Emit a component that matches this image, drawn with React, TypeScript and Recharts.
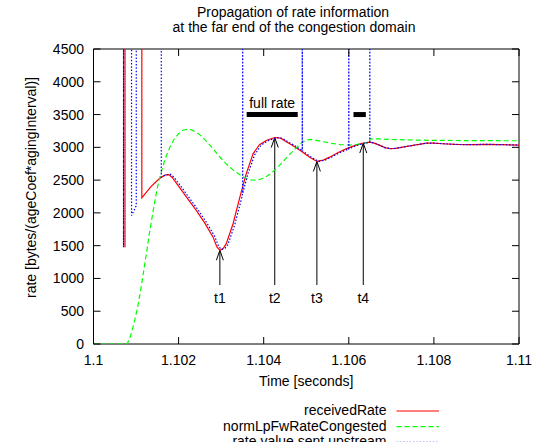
import { LineChart, Line, XAxis, YAxis, ReferenceLine, ReferenceArea, Legend } from "recharts"

const FONT = '"Liberation Sans", Arial, Helvetica, sans-serif'
const W = 547
const H = 442
// plot frame in pixels (used for the inward tick marks)
const PLOT = { left: 93.5, right: 519, top: 49, bottom: 344 }

const xTicks = [1.1, 1.102, 1.104, 1.106, 1.108, 1.11]
const yTicks = [0, 500, 1000, 1500, 2000, 2500, 3000, 3500, 4000, 4500]

// [time (s), rate]; values above 4500 are rate spikes that run off the top
const receivedRate: [number, number][] = [
  [1.10074, 9000], [1.10074, 1475], [1.100741, 9000],
  [1.101136, 9000], [1.101136, 2230], [1.10135, 2400], [1.10155, 2525],
  [1.10168, 2575], [1.10177, 2585], [1.10185, 2540], [1.10202, 2390],
  [1.10222, 2210], [1.10242, 2035], [1.10262, 1840], [1.10281, 1630],
  [1.1029, 1480], [1.10297, 1430], [1.10305, 1460], [1.10312, 1530],
  [1.10328, 1835], [1.10344, 2240], [1.10359, 2600], [1.10375, 2900],
  [1.1039, 3040], [1.10406, 3105], [1.10426, 3150], [1.1044, 3140],
  [1.10453, 3085], [1.1047, 3020], [1.10485, 2955], [1.10508, 2850],
  [1.10525, 2785], [1.1054, 2805], [1.10555, 2850], [1.10575, 2920],
  [1.10595, 2980], [1.10615, 3030], [1.10634, 3065], [1.10649, 3080],
  [1.1066, 3065], [1.10673, 3030], [1.10685, 2995], [1.10697, 2980],
  [1.1071, 2985], [1.1072, 2995], [1.10751, 3030], [1.10783, 3065],
  [1.108, 3065], [1.10821, 3055], [1.1085, 3045], [1.10885, 3040],
  [1.10924, 3046], [1.10962, 3040], [1.11, 3035],
]

const normLpFwRateCongested: [number, number][] = [
  [1.1, 0], [1.10076, 0], [1.1008, 15], [1.10085, 80], [1.1009, 190],
  [1.10095, 310], [1.101, 450], [1.10105, 610], [1.1011, 790], [1.10115, 990],
  [1.1012, 1200], [1.10125, 1410], [1.1013, 1630], [1.10135, 1830], [1.1014, 2020],
  [1.10145, 2210], [1.1015, 2380], [1.10155, 2520], [1.1016, 2640], [1.10165, 2750],
  [1.1017, 2850], [1.1018, 3010], [1.1019, 3130], [1.102, 3210], [1.1021, 3260],
  [1.1022, 3275], [1.1023, 3268], [1.1024, 3235], [1.1025, 3190], [1.1026, 3130],
  [1.1027, 3060], [1.1028, 2985], [1.1029, 2905], [1.103, 2830], [1.1031, 2760],
  [1.1032, 2700], [1.1033, 2645], [1.1034, 2600], [1.1035, 2555], [1.1036, 2525],
  [1.1037, 2505], [1.1038, 2500], [1.1039, 2510], [1.104, 2530], [1.1041, 2570],
  [1.1042, 2620], [1.1043, 2680], [1.1044, 2745], [1.1045, 2815], [1.1046, 2885],
  [1.1047, 2950], [1.1048, 3015], [1.1049, 3075], [1.105, 3112], [1.1051, 3122],
  [1.1052, 3112], [1.1054, 3085], [1.1056, 3060], [1.1058, 3042], [1.106, 3035],
  [1.1062, 3045], [1.1064, 3068], [1.10649, 3080], [1.1065, 3130], [1.1067, 3128],
  [1.107, 3120], [1.1075, 3112], [1.108, 3106], [1.109, 3102], [1.11, 3100],
]

const rateSentUpstream: [number, number][] = [
  [1.100706, 9000], [1.100706, 1475], [1.100707, 9000],
  [1.100894, 9000], [1.100894, 1960], [1.101005, 2110], [1.101005, 9000],
  [1.101593, 9000], [1.101593, 2545], [1.1017, 2580], [1.1018, 2590],
  [1.10189, 2545], [1.10206, 2400], [1.10226, 2220], [1.10246, 2045],
  [1.10266, 1850], [1.10285, 1640], [1.10294, 1490], [1.10301, 1440],
  [1.10309, 1460], [1.10316, 1520], [1.10332, 1820], [1.10348, 2220],
  [1.103506, 2300], [1.103506, 9000], [1.103507, 2300], [1.10363, 2600],
  [1.10379, 2890], [1.10394, 3035], [1.1041, 3100], [1.1043, 3148],
  [1.10444, 3138], [1.10457, 3085], [1.10474, 3020], [1.104906, 2950],
  [1.104906, 9000], [1.104907, 2950], [1.10512, 2848], [1.10529, 2785],
  [1.10544, 2805], [1.10559, 2850], [1.10579, 2920], [1.106, 2975],
  [1.106, 9000], [1.106001, 2975], [1.10619, 3030], [1.10638, 3065],
  [1.106494, 3078], [1.106494, 9000], [1.106495, 3078], [1.1066, 3065],
  [1.10673, 3030], [1.10685, 2995], [1.10697, 2980], [1.1071, 2985],
  [1.1072, 2995], [1.10751, 3030], [1.10783, 3065], [1.108, 3065],
  [1.10821, 3055], [1.1085, 3045], [1.10885, 3040], [1.10924, 3046],
  [1.10962, 3040], [1.11, 3035],
]

// intervals sent at full rate
const fullRateStart = [1.1036, 1.10611]
const fullRateEnd = [1.1048, 1.1064]
const fullRateLevel = 3500

// arrows pointing at the rate extrema
const markerNames = ["t1", "t2", "t3", "t4"]
const markerTimes = [1.10297, 1.10426, 1.10525, 1.10634]
const markerRates = [1430, 3150, 2785, 3065]
const markerBase = 900

const toPoints = (rows: [number, number][]) => rows.map(([t, v]) => ({ t, v }))

const series = [
  { name: "receivedRate", data: toPoints(receivedRate), color: "#ff0000", dash: undefined, width: 1.2 },
  { name: "normLpFwRateCongested", data: toPoints(normLpFwRateCongested), color: "#00ff00", dash: "5 3", width: 1.2 },
  { name: "rate value sent upstream", data: toPoints(rateSentUpstream), color: "#0000ff", dash: "1.5 1.8", width: 1.2 },
]

const XTick = ({ x, y, payload }: any) => (
  <g>
    <line x1={x} x2={x} y1={PLOT.bottom} y2={PLOT.bottom - 7} stroke="#000" />
    <line x1={x} x2={x} y1={PLOT.top} y2={PLOT.top + 7} stroke="#000" />
    <text x={x} y={y} dy="0.71em" textAnchor="middle" fontSize={14} fill="#000">
      {payload.value}
    </text>
  </g>
)

const YTick = ({ x, y, payload }: any) => (
  <g>
    <line x1={PLOT.left} x2={PLOT.left + 7} y1={y} y2={y} stroke="#000" />
    <line x1={PLOT.right} x2={PLOT.right - 7} y1={y} y2={y} stroke="#000" />
    <text x={x} y={y} dy="0.36em" textAnchor="end" fontSize={14} fill="#000">
      {payload.value}
    </text>
  </g>
)

// open "V" arrow head at the second point of the segment
const Arrow = ({ x1, y1, x2, y2 }: any) => (
  <g stroke="#000" strokeWidth={1} fill="none">
    <line x1={x1} y1={y1} x2={x2} y2={y2} />
    <polyline points={`${x2 - 3.5},${y2 + 10} ${x2},${y2} ${x2 + 3.5},${y2 + 10}`} />
  </g>
)

// gnuplot-style key: right-aligned titles with a line sample after each
const renderLegend = () => (
  <svg width={W} height={50} style={{ display: "block", fontFamily: FONT }}>
    {series.map((s, i) => {
      const y = 11 + i * 15.7
      return (
        <g key={s.name}>
          <text x={386.5} y={y + 4} textAnchor="end" fontSize={14} fill="#000">
            {s.name}
          </text>
          <line x1={396.5} x2={439} y1={y} y2={y} stroke={s.color} strokeWidth={s.width} strokeDasharray={s.dash} />
        </g>
      )
    })}
  </svg>
)

export default function App() {
  return (
    <div style={{ position: "absolute", left: 0, top: 0, width: W, height: H, fontFamily: FONT, background: "#fff" }}>
      <LineChart width={W} height={H} data={series[0].data} margin={{ top: 49, right: 28, bottom: 0, left: 0 }}>
        <XAxis
          type="number"
          dataKey="t"
          domain={[1.1, 1.11]}
          ticks={xTicks}
          interval={0}
          allowDataOverflow
          height={98}
          tickSize={0}
          tickMargin={11}
          axisLine={false}
          tickLine={false}
          tick={XTick}
          label={{ value: "Time [seconds]", position: "insideTop", offset: 32.5, fontSize: 14, fill: "#000" }}
        />
        <YAxis
          type="number"
          domain={[0, 4500]}
          ticks={yTicks}
          interval={0}
          allowDataOverflow
          width={93.5}
          tickSize={0}
          tickMargin={9.5}
          axisLine={false}
          tickLine={false}
          tick={YTick}
          label={{
            value: "rate [bytes/(ageCoef*agingInterval)]",
            angle: -90,
            position: "center",
            dx: -16,
            dy: -9,
            fontSize: 14,
            fill: "#000",
          }}
        />
        <ReferenceArea x1={1.1} x2={1.11} y1={0} y2={4500} fill="none" stroke="#000" strokeWidth={1} ifOverflow="visible" />
        {fullRateStart.map((from, i) => (
          <ReferenceLine
            key={`full-${i}`}
            segment={[{ x: from, y: fullRateLevel }, { x: fullRateEnd[i], y: fullRateLevel }]}
            stroke="#000"
            strokeWidth={5}
            label={i === 0 ? { value: "full rate", position: "top", offset: 7, fontSize: 14, fill: "#000" } : undefined}
          />
        ))}
        {markerNames.map((name, i) => (
          <ReferenceLine
            key={name}
            segment={[{ x: markerTimes[i], y: markerBase }, { x: markerTimes[i], y: markerRates[i] }]}
            shape={Arrow}
            label={{ value: name, position: "bottom", offset: 8, fontSize: 14, fill: "#000" }}
          />
        ))}
        {series.map((s) => (
          <Line
            key={s.name}
            name={s.name}
            data={s.data}
            dataKey="v"
            type="linear"
            stroke={s.color}
            strokeWidth={s.width}
            strokeDasharray={s.dash}
            dot={false}
            activeDot={false}
            isAnimationActive={false}
          />
        ))}
        <Legend
          layout="horizontal"
          verticalAlign="middle"
          align="center"
          content={renderLegend}
          wrapperStyle={{ left: 0, top: 400, width: W, height: 50 }}
        />
      </LineChart>
      <svg width={W} height={45} style={{ position: "absolute", left: 0, top: 0, pointerEvents: "none" }}>
        <text x={293} y={17} textAnchor="middle" fontSize={14} fill="#000">
          Propagation of rate information
        </text>
        <text x={294} y={31.5} textAnchor="middle" fontSize={14} fill="#000">
          at the far end of the congestion domain
        </text>
      </svg>
    </div>
  )
}
